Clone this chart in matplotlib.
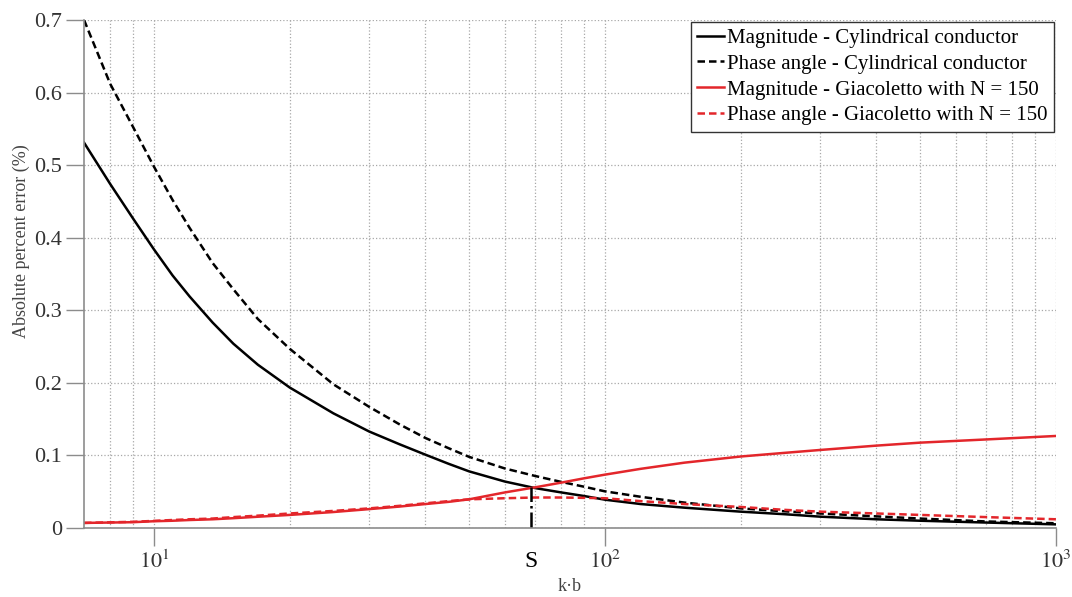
import matplotlib
matplotlib.use('Agg')
import matplotlib.pyplot as plt
from matplotlib.ticker import FixedLocator, NullFormatter
import matplotlib.transforms as mtransforms

# valores
kb = [7, 8, 9, 10, 11, 12, 13.5, 15, 17, 20, 25, 30, 35, 40, 45, 50, 60, 70, 80, 90,
      100, 120, 150, 200, 250, 300, 400, 500, 700, 1000]
mag_cyl = [0.531, 0.474, 0.426, 0.384, 0.348, 0.319, 0.283, 0.254, 0.225, 0.1936,
           0.158, 0.133, 0.1155, 0.101, 0.0885, 0.078, 0.064, 0.055, 0.049, 0.044,
           0.039, 0.033, 0.028, 0.0225, 0.019, 0.0156, 0.012, 0.010, 0.0075, 0.005]
phase_cyl = [0.700, 0.612, 0.552, 0.498, 0.452, 0.4135, 0.365, 0.329, 0.288, 0.247,
             0.198, 0.167, 0.143, 0.124, 0.110, 0.098, 0.082, 0.0717, 0.0635, 0.0568,
             0.0505, 0.043, 0.035, 0.027, 0.023, 0.020, 0.016, 0.013, 0.009, 0.0065]
mag_gia = [0.007, 0.0075, 0.008, 0.0093, 0.010, 0.011, 0.012, 0.0135, 0.0155, 0.018,
           0.022, 0.026, 0.0295, 0.033, 0.036, 0.0395, 0.049, 0.056, 0.0625, 0.0685,
           0.0735, 0.0815, 0.090, 0.0985, 0.1035, 0.1075, 0.1135, 0.1176, 0.122, 0.1268]
phase_gia = [0.007, 0.0078, 0.0085, 0.0098, 0.011, 0.012, 0.013, 0.015, 0.017, 0.020,
             0.0235, 0.027, 0.0305, 0.034, 0.037, 0.0395, 0.041, 0.042, 0.042, 0.0415,
             0.041, 0.037, 0.033, 0.029, 0.025, 0.0225, 0.020, 0.018, 0.015, 0.012]

S_kb = 68.4
S_err = 0.056

labels = ['Magnitude - Cylindrical conductor',
          'Phase angle - Cylindrical conductor',
          'Magnitude - Giacoletto with N = 150',
          'Phase angle - Giacoletto with N = 150']

plt.rcParams['font.family'] = ['Liberation Serif', 'DejaVu Serif']
plt.rcParams['mathtext.fontset'] = 'stix'

red = '#e3262b'
gris = '#8c8c8c'
dash = (0, (3, 1.6))

fig = plt.figure(figsize=(10.72, 5.97), dpi=100)
ax = fig.add_axes([0.0784, 0.1156, 0.9066, 0.8509])

ax.plot(kb, mag_cyl, color='black', lw=1.8, label=labels[0])
ax.plot(kb, phase_cyl, color='black', lw=1.8, ls=dash, label=labels[1])
ax.plot(kb, mag_gia, color=red, lw=1.8, label=labels[2])
ax.plot(kb, phase_gia, color=red, lw=1.8, ls=dash, label=labels[3])

# linea vertical en S
ax.plot([S_kb, S_kb], [0, S_err], color='black', lw=1.8, ls='-.')

ax.set_xscale('log')
ax.set_xlim(7, 1000)
ax.set_ylim(0, 0.7)

ax.xaxis.set_major_locator(FixedLocator([10, 100, 1000]))
ax.set_xticklabels([r'$10^{1}$', r'$10^{2}$', r'$10^{3}$'])
ax.xaxis.set_minor_locator(FixedLocator([8, 9, 20, 30, 40, 50, 60, 70, 80, 90,
                                         200, 300, 400, 500, 600, 700, 800, 900]))
ax.xaxis.set_minor_formatter(NullFormatter())
ax.set_yticks([0, 0.1, 0.2, 0.3, 0.4, 0.5, 0.6, 0.7])
ax.set_yticklabels(['0', '0.1', '0.2', '0.3', '0.4', '0.5', '0.6', '0.7'])

ax.grid(True, which='both', ls=':', color='#a8a8a8', lw=0.9)
ax.tick_params(axis='both', which='major', direction='out', length=13, width=1,
               color=gris, labelsize=16, labelcolor='#333333', pad=3)
ax.tick_params(axis='x', which='minor', length=0)

for side in ['top', 'right']:
    ax.spines[side].set_visible(False)
for side in ['left', 'bottom']:
    ax.spines[side].set_color(gris)
    ax.spines[side].set_linewidth(1.2)

trans = mtransforms.blended_transform_factory(ax.transData, ax.transAxes)
ax.text(S_kb, -0.065, 'S', transform=trans, ha='center', va='center', fontsize=17, color='black')

ax.set_xlabel(u'k\u00b7b', fontsize=13, color='#444444')
ax.xaxis.set_label_coords(0.5, -0.115)
ax.xaxis.label.set_va('center')
ax.set_ylabel('Absolute percent error (%)', fontsize=13, color='#444444')
ax.yaxis.set_label_coords(-0.0648, 0.565)
ax.yaxis.label.set_va('center')

leg = ax.legend(loc='upper right', fontsize=15, frameon=True, fancybox=False,
                edgecolor='#333333', framealpha=1, handlelength=1.3, handletextpad=0.15,
                labelspacing=0.3, borderpad=0.3, borderaxespad=0.1)
leg.get_frame().set_linewidth(1.0)

fig.savefig('out.png', dpi=100)
